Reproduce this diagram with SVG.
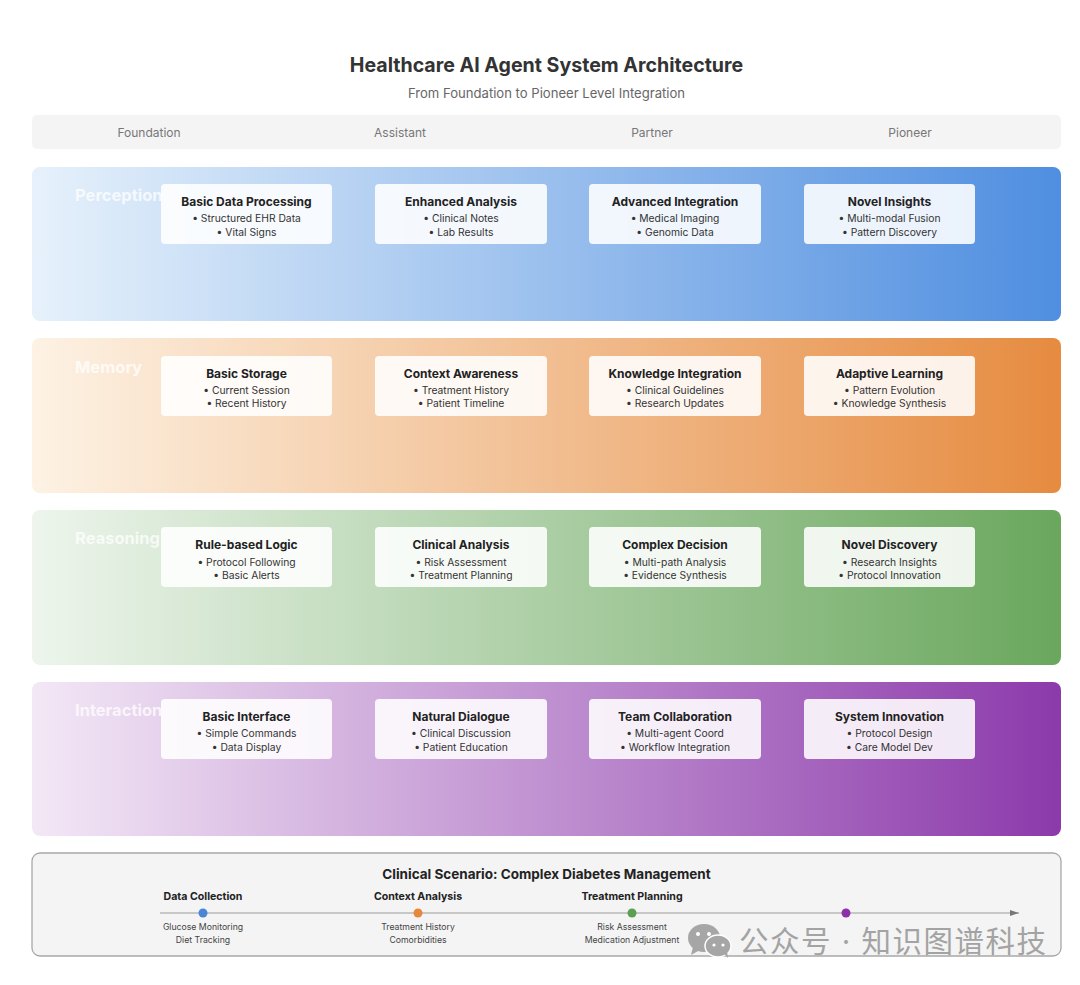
<svg xmlns="http://www.w3.org/2000/svg" width="1080" height="985" viewBox="0 0 1080 985">
<style>
text{font-family:Inter,"Liberation Sans","Noto Sans CJK SC",sans-serif;text-anchor:middle}
.title{font-size:19.6px;font-weight:700;fill:#333}
.sub{font-size:13.1px;fill:#666}
.hd{font-size:12px;fill:#777}
.row{font-size:16.5px;font-weight:700;fill:#fff;fill-opacity:.75;text-anchor:start}
.card{fill:#fff;fill-opacity:.88}
.ct{font-size:12px;font-weight:700;fill:#222}
.cb{font-size:10.3px;fill:#333}
.st{font-size:10.6px;font-weight:700;fill:#222}
.sd{font-size:8.7px;fill:#444}
.wm{font-size:29.5px;fill:#a3a3a3;text-anchor:start;letter-spacing:1.5px}
</style>
<defs>
<linearGradient id="gb"><stop offset="0" stop-color="#e6f1fb"/><stop offset="1" stop-color="#4f8ee0"/></linearGradient>
<linearGradient id="go"><stop offset="0" stop-color="#fdf2e4"/><stop offset="1" stop-color="#e68b40"/></linearGradient>
<linearGradient id="gg"><stop offset="0" stop-color="#edf5ec"/><stop offset="1" stop-color="#6aa75d"/></linearGradient>
<linearGradient id="gp"><stop offset="0" stop-color="#f3e8f6"/><stop offset="1" stop-color="#8c3aab"/></linearGradient>
<marker id="arr" markerWidth="10" markerHeight="8" refX="9" refY="3" orient="auto" markerUnits="userSpaceOnUse"><path d="M0 0L9 3L0 6Z" fill="#777"/></marker>
</defs>
<rect width="1080" height="985" fill="#fff"/>
<text class="title" x="546.500" y="72">Healthcare AI Agent System Architecture</text>
<text class="sub" x="546.500" y="98">From Foundation to Pioneer Level Integration</text>
<g id="header">
<rect x="32" y="115" width="1029" height="34" rx="5" fill="#f4f4f4"/>
<text class="hd" x="149" y="137">Foundation</text>
<text class="hd" x="400" y="137">Assistant</text>
<text class="hd" x="652" y="137">Partner</text>
<text class="hd" x="910" y="137">Pioneer</text>
</g>
<g id="perception">
<rect x="32" y="167" width="1029" height="154" rx="8" fill="url(#gb)"/>
<text class="row" x="75" y="201">Perception</text>
</g>
<g id="memory">
<rect x="32" y="338" width="1029" height="155" rx="8" fill="url(#go)"/>
<text class="row" x="75" y="373">Memory</text>
</g>
<g id="reasoning">
<rect x="32" y="510" width="1029" height="155" rx="8" fill="url(#gg)"/>
<text class="row" x="75" y="544">Reasoning</text>
</g>
<g id="interaction">
<rect x="32" y="682" width="1029" height="154" rx="8" fill="url(#gp)"/>
<text class="row" x="75" y="716">Interaction</text>
</g>
<g id="p1"><rect class="card" x="161" y="184" width="171" height="60" rx="4"/><text class="ct" x="246.500" y="206">Basic Data Processing</text><text class="cb" x="246.500" y="222">• Structured EHR Data</text><text class="cb" x="246.500" y="235.500">• Vital Signs</text></g>
<g id="p2"><rect class="card" x="375" y="184" width="172" height="60" rx="4"/><text class="ct" x="461" y="206">Enhanced Analysis</text><text class="cb" x="461" y="222">• Clinical Notes</text><text class="cb" x="461" y="235.500">• Lab Results</text></g>
<g id="p3"><rect class="card" x="589" y="184" width="172" height="60" rx="4"/><text class="ct" x="675" y="206">Advanced Integration</text><text class="cb" x="675" y="222">• Medical Imaging</text><text class="cb" x="675" y="235.500">• Genomic Data</text></g>
<g id="p4"><rect class="card" x="804" y="184" width="171" height="60" rx="4"/><text class="ct" x="889.500" y="206">Novel Insights</text><text class="cb" x="889.500" y="222">• Multi-modal Fusion</text><text class="cb" x="889.500" y="235.500">• Pattern Discovery</text></g>
<g id="m1"><rect class="card" x="161" y="356" width="171" height="60" rx="4"/><text class="ct" x="246.500" y="377.500">Basic Storage</text><text class="cb" x="246.500" y="394">• Current Session</text><text class="cb" x="246.500" y="407">• Recent History</text></g>
<g id="m2"><rect class="card" x="375" y="356" width="172" height="60" rx="4"/><text class="ct" x="461" y="377.500">Context Awareness</text><text class="cb" x="461" y="394">• Treatment History</text><text class="cb" x="461" y="407">• Patient Timeline</text></g>
<g id="m3"><rect class="card" x="589" y="356" width="172" height="60" rx="4"/><text class="ct" x="675" y="377.500">Knowledge Integration</text><text class="cb" x="675" y="394">• Clinical Guidelines</text><text class="cb" x="675" y="407">• Research Updates</text></g>
<g id="m4"><rect class="card" x="804" y="356" width="171" height="60" rx="4"/><text class="ct" x="889.500" y="377.500">Adaptive Learning</text><text class="cb" x="889.500" y="394">• Pattern Evolution</text><text class="cb" x="889.500" y="407">• Knowledge Synthesis</text></g>
<g id="r1"><rect class="card" x="161" y="527" width="171" height="60" rx="4"/><text class="ct" x="246.500" y="549">Rule-based Logic</text><text class="cb" x="246.500" y="566">• Protocol Following</text><text class="cb" x="246.500" y="579">• Basic Alerts</text></g>
<g id="r2"><rect class="card" x="375" y="527" width="172" height="60" rx="4"/><text class="ct" x="461" y="549">Clinical Analysis</text><text class="cb" x="461" y="566">• Risk Assessment</text><text class="cb" x="461" y="579">• Treatment Planning</text></g>
<g id="r3"><rect class="card" x="589" y="527" width="172" height="60" rx="4"/><text class="ct" x="675" y="549">Complex Decision</text><text class="cb" x="675" y="566">• Multi-path Analysis</text><text class="cb" x="675" y="579">• Evidence Synthesis</text></g>
<g id="r4"><rect class="card" x="804" y="527" width="171" height="60" rx="4"/><text class="ct" x="889.500" y="549">Novel Discovery</text><text class="cb" x="889.500" y="566">• Research Insights</text><text class="cb" x="889.500" y="579">• Protocol Innovation</text></g>
<g id="i1"><rect class="card" x="161" y="699" width="171" height="60" rx="4"/><text class="ct" x="246.500" y="720.500">Basic Interface</text><text class="cb" x="246.500" y="737">• Simple Commands</text><text class="cb" x="246.500" y="750.500">• Data Display</text></g>
<g id="i2"><rect class="card" x="375" y="699" width="172" height="60" rx="4"/><text class="ct" x="461" y="720.500">Natural Dialogue</text><text class="cb" x="461" y="737">• Clinical Discussion</text><text class="cb" x="461" y="750.500">• Patient Education</text></g>
<g id="i3"><rect class="card" x="589" y="699" width="172" height="60" rx="4"/><text class="ct" x="675" y="720.500">Team Collaboration</text><text class="cb" x="675" y="737">• Multi-agent Coord</text><text class="cb" x="675" y="750.500">• Workflow Integration</text></g>
<g id="i4"><rect class="card" x="804" y="699" width="171" height="60" rx="4"/><text class="ct" x="889.500" y="720.500">System Innovation</text><text class="cb" x="889.500" y="737">• Protocol Design</text><text class="cb" x="889.500" y="750.500">• Care Model Dev</text></g>
<g id="scenario">
<rect x="32" y="853" width="1029" height="103" rx="8" fill="#f4f4f4" stroke="#a8a8a8" stroke-width="1.3"/>
<text x="546.500" y="879" style="font-size:13.5px;font-weight:700;fill:#222">Clinical Scenario: Complex Diabetes Management</text>
</g>
<g id="connectors">
<line x1="160" y1="913" x2="1019" y2="913" stroke="#999" stroke-width="1.2" marker-end="url(#arr)"/>
</g>
<g id="step1"><circle cx="203" cy="913" r="4.5" fill="#4a86d8"/><text class="st" x="203" y="900">Data Collection</text><text class="sd" x="203" y="930">Glucose Monitoring</text><text class="sd" x="203" y="943">Diet Tracking</text></g>
<g id="step2"><circle cx="418" cy="913" r="4.5" fill="#e6873a"/><text class="st" x="418" y="900">Context Analysis</text><text class="sd" x="418" y="930">Treatment History</text><text class="sd" x="418" y="943">Comorbidities</text></g>
<g id="step3"><circle cx="632" cy="913" r="4.5" fill="#5aa04e"/><text class="st" x="632" y="900">Treatment Planning</text><text class="sd" x="632" y="930">Risk Assessment</text><text class="sd" x="632" y="943">Medication Adjustment</text></g>
<g id="step4"><circle cx="846" cy="913" r="4.5" fill="#8c2fa8"/></g>
<g id="watermark">
<ellipse cx="704" cy="938" rx="16" ry="14" fill="#a6a6a6"/>
<path d="M693 947l-2 8l9-5z" fill="#a6a6a6"/>
<ellipse cx="718" cy="946" rx="13" ry="11" fill="#a6a6a6" stroke="#fff" stroke-width="1.5"/>
<path d="M724 954l4 4l-1-7z" fill="#a6a6a6"/>
<circle cx="698" cy="934" r="2" fill="#fff"/><circle cx="709" cy="934" r="2" fill="#fff"/>
<circle cx="714" cy="945" r="1.6" fill="#fff"/><circle cx="723" cy="945" r="1.6" fill="#fff"/>
<text class="wm" x="739" y="952">公众号 · 知识图谱科技</text>
</g>
</svg>
